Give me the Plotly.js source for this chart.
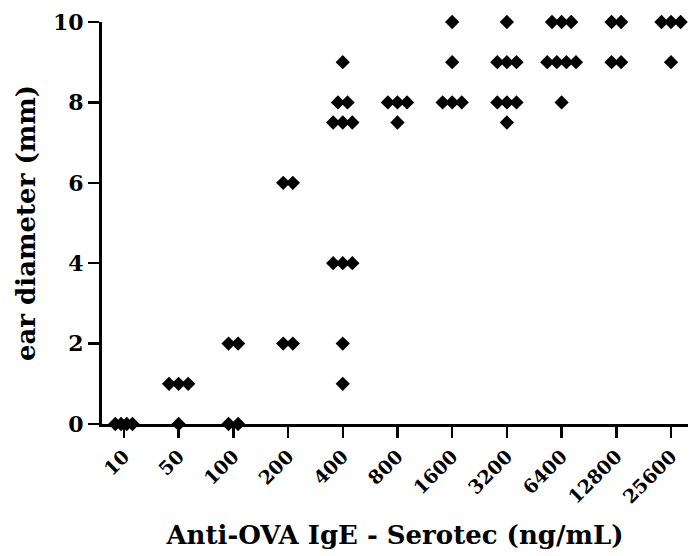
<!DOCTYPE html>
<html>
<head>
<meta charset="utf-8">
<script src="https://cdn.plot.ly/plotly-3.0.1.min.js"></script>
<style>html,body{margin:0;padding:0;background:#fff;}#chart{width:690px;height:556px;}</style>
</head>
<body>
<div id="chart"></div>
<script>
// Dose categories (ng/mL)
const categories = ['10','50','100','200','400','800','1600','3200','6400','12800','25600'];
// Ear diameter (mm) per dose group
const dose10    = [0, 0, 0, 0];
const dose50    = [1, 1, 1, 0];
const dose100   = [2, 2, 0, 0];
const dose200   = [6, 6, 2, 2];
const dose400   = [9, 8, 8, 7.5, 7.5, 7.5, 4, 4, 4, 2, 1];
const dose800   = [8, 8, 8, 7.5];
const dose1600  = [10, 9, 8, 8, 8];
const dose3200  = [10, 9, 9, 9, 8, 8, 8, 7.5];
const dose6400  = [10, 10, 10, 9, 9, 9, 9, 8];
const dose12800 = [10, 10, 9, 9];
const dose25600 = [10, 10, 10, 9];
const yTicks = [0, 2, 4, 6, 8, 10];

const groups = [dose10, dose50, dose100, dose200, dose400, dose800, dose1600, dose3200, dose6400, dose12800, dose25600];
const spread = 0.175;
const xs = [], ys = [];
groups.forEach((vals, gi) => {
  const counts = {};
  vals.forEach(v => counts[v] = (counts[v] || 0) + 1);
  const seen = {};
  vals.forEach(v => {
    const n = counts[v];
    const k = seen[v] || 0;
    seen[v] = k + 1;
    const sp = gi === 0 ? spread * 0.6 : spread;
    xs.push(gi + (k - (n - 1) / 2) * sp);
    ys.push(v);
  });
});

const font = 'DejaVu Serif, serif';
Plotly.newPlot('chart', [{
  type: 'scatter', mode: 'markers', x: xs, y: ys, cliponaxis: false,
  marker: {symbol: 'diamond', size: 11, color: '#000', line: {width: 0}},
  hoverinfo: 'skip'
}], {
  width: 690, height: 556,
  margin: {l: 102, r: 2, t: 22, b: 132},
  paper_bgcolor: '#fff', plot_bgcolor: '#fff',
  showlegend: false,
  font: {family: font, color: '#000'},
  xaxis: {
    range: [-0.4, 10.31], tickmode: 'array',
    tickvals: categories.map((c, i) => i), ticktext: categories,
    tickangle: -45, showgrid: false, zeroline: false,
    showline: true, linecolor: '#000', linewidth: 3,
    ticks: 'outside', ticklen: 11, tickwidth: 2.5, tickcolor: '#000',
    tickfont: {family: font, size: 19, color: '#000', weight: 'bold'},
    title: {text: '<b>Anti-OVA IgE - Serotec (ng/mL)</b>', font: {family: font, size: 26, color: '#000'}, standoff: 20}
  },
  yaxis: {
    range: [0, 10], tickmode: 'array', tickvals: yTicks, ticktext: yTicks.map(String),
    showgrid: false, zeroline: false,
    showline: true, linecolor: '#000', linewidth: 3,
    ticks: 'outside', ticklen: 11, tickwidth: 2.5, tickcolor: '#000',
    tickfont: {family: font, size: 22, color: '#000', weight: 'bold'},
    title: {text: '<b>ear diameter (mm)</b>', font: {family: font, size: 26, color: '#000'}, standoff: 10}
  }
}, {displayModeBar: false, staticPlot: true});
</script>
</body>
</html>
